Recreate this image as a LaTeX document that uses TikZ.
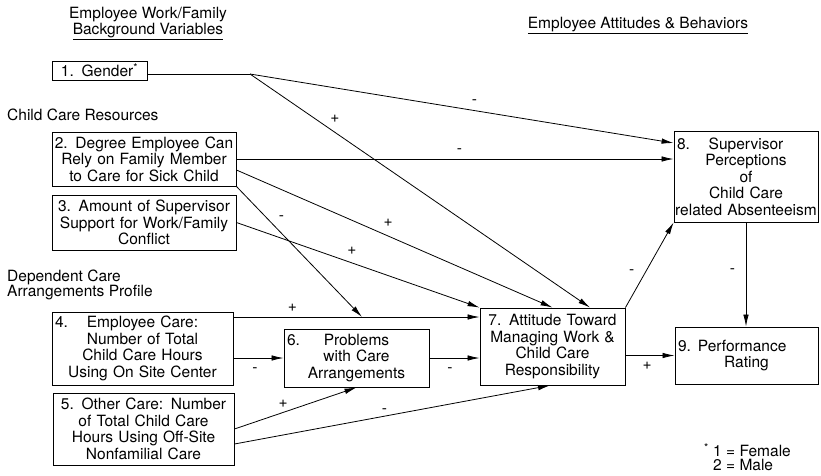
\documentclass[tikz,border=0pt]{standalone}
\usepackage{fontspec}
\setmainfont{TeX Gyre Heros}
\usetikzlibrary{arrows.meta}

\newcommand\numline[2]{\makebox[\hsize]{\rlap{\hspace*{3pt}#1}\hfill#2\hfill}}

\tikzset{
  varbox/.style={draw, line width=0.9pt, inner xsep=0pt, inner ysep=0pt,
    align=center, text width=#1},
  arr/.style={line width=0.8pt, -{Latex[length=12pt, width=5.5pt]}},
  link/.style={line width=0.8pt},
  sgn/.style={inner sep=1pt},
  hdr/.style={inner sep=0pt, align=center, font=\fontsize{15.5}{14}\selectfont}
}

\begin{document}
\begin{tikzpicture}[x=1pt, y=-1pt, font=\fontsize{15.5}{16.5}\selectfont]
    \useasboundingbox (0,0) rectangle (821,475);

    % Headings
    \node[hdr, anchor=north] (hleft) at (148,7) {Employee Work/Family\\\underline{Background Variables}};
    \node[hdr, anchor=base] (hright) at (638,28.5) {\underline{Employee Attitudes \& Behaviors}};
    \node[inner sep=0pt, anchor=west] (grpres) at (7,115) {Child Care Resources};
    \node[inner sep=0pt, anchor=west, align=left, font=\fontsize{15.5}{15}\selectfont] (grpprof) at (7,285) {Dependent Care\\Arrangements Profile};

    % Variables
    \node[varbox=95pt, minimum height=19pt] (b1) at (99.5,70.5) {1. Gender\textsuperscript{*}};
    \node[varbox=184pt, minimum height=54pt] (b2) at (144,159) {2. Degree Employee Can\\Rely on Family Member\\to Care for Sick Child};
    \node[varbox=184pt, minimum height=55pt] (b3) at (144,222.5) {3. Amount of Supervisor\\Support for Work/Family\\Conflict};
    \node[varbox=181pt, minimum height=73pt] (b4) at (142.5,348.5) {\numline{4.}{Employee Care:}\\Number of Total\\Child Care Hours\\Using On Site Center};
    \node[varbox=181pt, minimum height=72pt] (b5) at (143.5,429) {5. Other Care: Number\\of Total Child Care\\Hours Using Off-Site\\Nonfamilial Care};
    \node[varbox=145pt, minimum height=58pt] (b6) at (356.5,358) {\numline{6.}{Problems}\\with Care\\Arrangements};
    \node[varbox=145pt, minimum height=77pt] (b7) at (552.5,346.5) {7. Attitude Toward\\Managing Work \&\\Child Care\\Responsibility};
    \node[varbox=144pt, minimum height=91pt] (b8) at (746,176.5) {\numline{8.}{Supervisor}\\Perceptions\\of\\Child Care\\related Absenteeism};
    \node[varbox=143pt, minimum height=57pt] (b9) at (746.5,355.5) {\makebox[\hsize][l]{\hspace*{3pt}9.\hspace{.45em}Performance}\\Rating};

    % Footnote
    \node[inner sep=0pt, anchor=north west, align=left, font=\fontsize{15.5}{12.5}\selectfont] (fnote) at (704,443) {\textsuperscript{*} 1 = Female\\\phantom{\textsuperscript{*} }2 = Male};

    % Paths
    \coordinate (gsplit) at (250,74);
    \coordinate (mod) at (362,317);
    \draw[link] (b1.east |- gsplit) -- (gsplit);
    \draw[arr] (gsplit) -- node[sgn, pos=0.53, above=5pt] {-} ([yshift=33.5pt]b8.west);
    \draw[arr] (gsplit) -- node[sgn, pos=0.25, above=8pt] {+} ([xshift=37.5pt]b7.north);
    \draw[arr] (b2.east) -- node[sgn, pos=0.51, above=4.5pt] {-} (b2.east -| b8.west);
    \draw[arr] ([yshift=-11pt]b2.east) -- node[sgn, pos=0.48, above=8.5pt] {+} (b7.north);
    \draw[arr] (b2.south east) -- node[sgn, pos=0.24, right=11pt] {-} (mod);
    \draw[arr] (b3.east) -- node[sgn, pos=0.475, above=7pt] {+} (b7.north west);
    \draw[arr] (b4.east |- mod) -- node[sgn, pos=0.24, above=4pt] {+} (mod -| b7.west);
    \draw[arr] (b4.east |- b6.west) -- node[sgn, pos=0.43, below=8pt] {-} (b6.west);
    \draw[arr] (b6.east) -- node[sgn, pos=0.41, below=8pt] {-} (b6.east -| b7.west);
    \draw[arr] (b5.east) -- node[sgn, pos=0.4, above=3pt] {+} (b6.south);
    \draw[arr] ([yshift=-15pt]b5.east) -- node[sgn, pos=0.475, above=1pt] {-} ([xshift=-2.5pt]b7.south);
    \draw[arr] (b9.west -| b7.east) -- node[sgn, pos=0.44, below=5.5pt] {+} (b9.west);
    \draw[arr] (b7.north east) -- node[sgn, pos=0.42, left=10pt] {-} (b8.south west);
    \draw[arr] (b8.south) -- node[sgn, pos=0.47, left=9.5pt] {-} (b8.south |- b9.north);
\end{tikzpicture}
\end{document}
